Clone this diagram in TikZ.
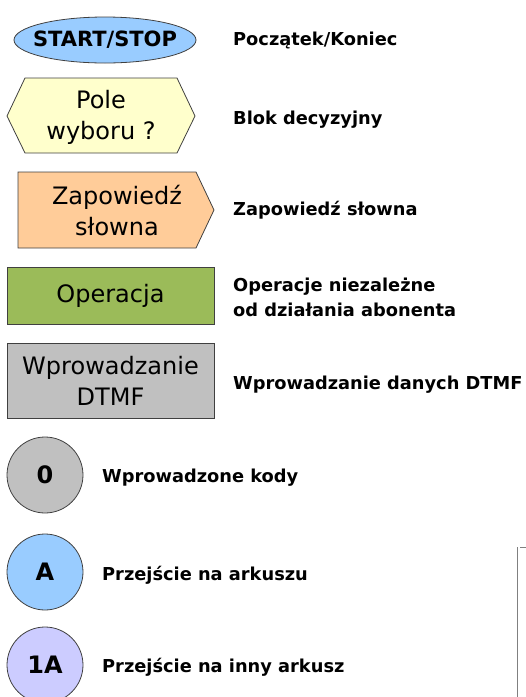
\documentclass[tikz,border=0pt]{standalone}
\usepackage{fontspec}
\setmainfont{DejaVu Sans}
\usetikzlibrary{shapes.geometric}
\definecolor{cblue}{HTML}{99CCFF}
\definecolor{cyellow}{HTML}{FFFFCC}
\definecolor{corange}{HTML}{FFCC99}
\definecolor{cgreen}{HTML}{9BBB59}
\definecolor{cgray}{HTML}{C0C0C0}
\definecolor{clav}{HTML}{CCCCFF}
\definecolor{cline}{HTML}{404040}
\begin{document}
\begin{tikzpicture}[x=1pt,y=-1pt,
  outl/.style={draw=cline,line width=0.8pt},
  shp/.style={outl,align=center,font=\fontsize{24}{31}\selectfont,inner sep=0pt},
  stxt/.style={align=center,font=\fontsize{24}{31}\selectfont,inner sep=0pt},
  desc/.style={anchor=west,font=\bfseries\fontsize{17.8}{25}\selectfont,align=left,inner sep=0pt},
  circ/.style={shp,circle,minimum size=76pt,font=\bfseries\fontsize{24}{28}\selectfont}]
\useasboundingbox (0,0) rectangle (526,697);
% start/stop
\node[shp,ellipse,fill=cblue,minimum width=182pt,minimum height=46pt] (start) at (105,40) {};
\node[stxt,font=\bfseries\fontsize{21}{26}\selectfont] (startt) at (start.center) {START/STOP};
\node[desc] (startd) at (233,40) {Początek/Koniec};
% decision hexagon
\draw[outl,fill=cyellow] (7,116) -- (25,78) -- (177,78) -- (195,116) -- (177,153) -- (25,153) -- cycle;
\node[stxt] (dec) at (101,117) {Pole\\wyboru ?};
\node[desc] (decd) at (233,120) {Blok decyzyjny};
% announcement
\draw[outl,fill=corange] (18,172) -- (196,172) -- (214,210) -- (196,248) -- (18,248) -- cycle;
\node[stxt] (ann) at (117,211) {Zapowiedź\\słowna};
\node[desc] (annd) at (233,210) {Zapowiedź słowna};
% operation
\node[shp,fill=cgreen,minimum width=207pt,minimum height=57pt] (op) at (110.5,295.5) {Operacja};
\node[desc] (opd) at (233,297) {Operacje niezależne\\od działania abonenta};
% DTMF
\node[shp,fill=cgray,minimum width=207pt,minimum height=75pt] (dtmf) at (110.5,380.5) {Wprowadzanie\\DTMF};
\node[desc] (dtmfd) at (233,385) {Wprowadzanie danych DTMF};
% circles
\node[circ,fill=cgray] (c0) at (45,475) {0};
\node[desc] (c0d) at (102,478) {Wprowadzone kody};
\node[circ,fill=cblue] (cA) at (45,572) {A};
\node[desc] (cAd) at (102,575) {Przejście na arkuszu};
\node[circ,fill=clav] (c1A) at (45,665) {1A};
\node[desc] (c1Ad) at (102,667) {Przejście na inny arkusz};
% edge line
\coordinate (l1) at (517,697);
\coordinate (l2) at (517,547);
\coordinate (l3) at (526,547);
\coordinate (l4) at (520,547);
\draw[gray,line width=1pt] (l1) -- (l2);
\draw[gray,line width=1pt] (l4) -- (l3);
\end{tikzpicture}
\end{document}
